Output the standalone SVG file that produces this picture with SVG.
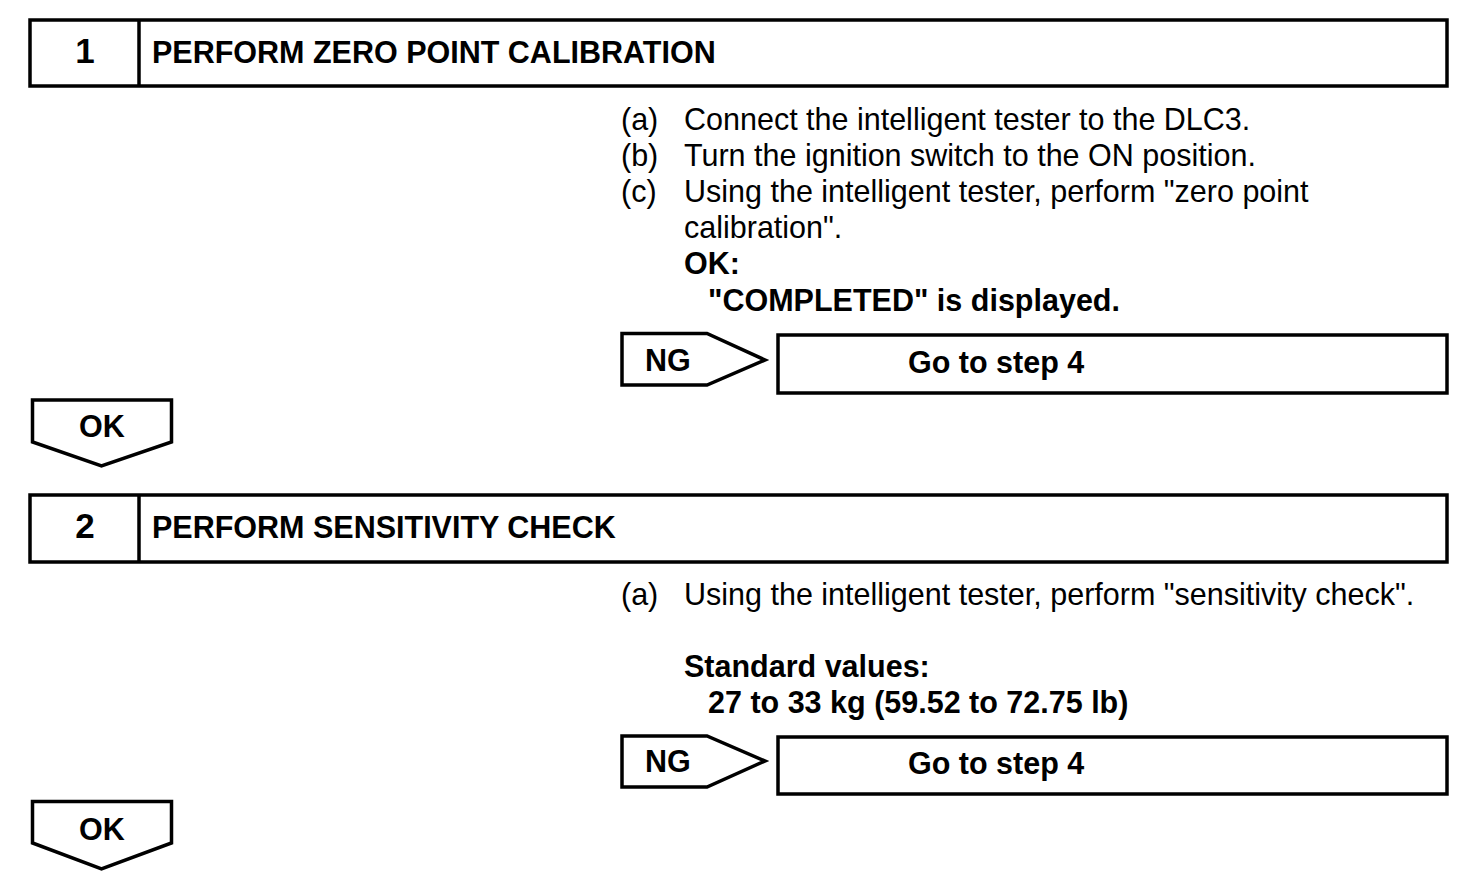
<svg xmlns="http://www.w3.org/2000/svg" width="1472" height="892" viewBox="0 0 1472 892">
<style>
.box{fill:#fff;stroke:#000;stroke-width:3.5}
.t{font-family:"Liberation Sans",Arial,sans-serif;font-size:30.5px;fill:#000}
.b{font-family:"Liberation Sans",Arial,sans-serif;font-size:30.5px;font-weight:bold;fill:#000}
.n{font-family:"Liberation Sans",Arial,sans-serif;font-size:35px;font-weight:bold;fill:#000;text-anchor:middle}
</style>
<rect width="1472" height="892" fill="#fff"/>
<g id="step1">
<rect class="box" x="30" y="20" width="1417" height="66"/>
<line x1="139" y1="20" x2="139" y2="86" stroke="#000" stroke-width="3.5"/>
<text class="n" x="85" y="63">1</text>
<text class="b" x="152" y="63">PERFORM ZERO POINT CALIBRATION</text>
</g>
<g id="step1-text">
<text class="t" x="621" y="130">(a)</text>
<text class="t" x="684" y="130">Connect the intelligent tester to the DLC3.</text>
<text class="t" x="621" y="166">(b)</text>
<text class="t" x="684" y="166">Turn the ignition switch to the ON position.</text>
<text class="t" x="621" y="202">(c)</text>
<text class="t" x="684" y="202">Using the intelligent tester, perform "zero point</text>
<text class="t" x="684" y="238">calibration".</text>
<text class="b" x="684" y="274">OK:</text>
<text class="b" x="708" y="311">"COMPLETED" is displayed.</text>
</g>
<g id="ng1">
<polygon class="box" points="622,333.5 707,333.5 765,360 707,385 622,385"/>
<text class="b" x="645" y="371">NG</text>
</g>
<g id="goto1">
<rect class="box" x="778" y="335" width="669" height="58"/>
<text class="b" x="908" y="373">Go to step 4</text>
</g>
<g id="ok1">
<polygon class="box" points="32.5,400 171.5,400 171.5,442 101.5,466 32.5,442"/>
<text class="b" x="79" y="437">OK</text>
</g>
<g id="step2">
<rect class="box" x="30" y="495" width="1417" height="67"/>
<line x1="139" y1="495" x2="139" y2="562" stroke="#000" stroke-width="3.5"/>
<text class="n" x="85" y="538">2</text>
<text class="b" x="152" y="538">PERFORM SENSITIVITY CHECK</text>
</g>
<g id="step2-text">
<text class="t" x="621" y="605">(a)</text>
<text class="t" x="684" y="605">Using the intelligent tester, perform "sensitivity check".</text>
<text class="b" x="684" y="677">Standard values:</text>
<text class="b" x="708" y="713">27 to 33 kg (59.52 to 72.75 lb)</text>
</g>
<g id="ng2">
<polygon class="box" points="622,736 707,736 765,761 707,787 622,787"/>
<text class="b" x="645" y="772">NG</text>
</g>
<g id="goto2">
<rect class="box" x="778" y="737" width="669" height="57"/>
<text class="b" x="908" y="774">Go to step 4</text>
</g>
<g id="ok2">
<polygon class="box" points="32.5,801.5 171.5,801.5 171.5,843 101.5,869 32.5,843"/>
<text class="b" x="79" y="840">OK</text>
</g>
<g id="connectors"></g>
</svg>
